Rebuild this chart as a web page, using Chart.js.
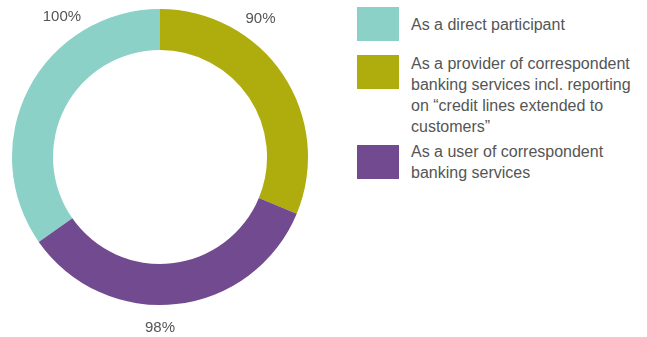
<!DOCTYPE html>
<html lang="en">
<head>
  <meta charset="UTF-8">
  <title>Participation Ring</title>
  <script src="https://cdn.jsdelivr.net/npm/chart.js"></script>
  <style>
    body {
      margin: 0;
      background: #fff;
      font-family: "Liberation Sans", Arial, sans-serif;
      color: #555;
    }

    #wrap {
      position: relative;
      width: 647px;
      height: 337px;
    }

    #chartBox {
      position: absolute;
      left: 0;
      top: 0;
      width: 320px;
      height: 337px;
    }

    #legend {
      position: absolute;
      left: 357px;
      top: 7px;
    }

    #legend ul {
      list-style: none;
      margin: 0;
      padding: 0;
    }

    #legend li {
      display: flex;
      align-items: flex-start;
      min-height: 40px;
      margin-bottom: 8px;
    }

    #legend .box {
      width: 42px;
      height: 34px;
      flex: none;
      margin-right: 12px;
    }

    #legend .txt {
      font-size: 16px;
      line-height: 21px;
      color: #555;
      white-space: nowrap;
    }
  </style>
</head>
<body>
<div id="wrap">
  <div id="chartBox"><canvas id="ringChart"></canvas></div>
  <div id="legend"></div>
</div>

<script>
    const categories = [
        ['As a direct participant'],
        ['As a provider of correspondent', 'banking services incl. reporting', 'on \u201ccredit lines extended to', 'customers\u201d'],
        ['As a user of correspondent', 'banking services']
    ];
    const shares = [100, 90, 98];
    const colors = ['#8bd1c8', '#afac0d', '#714a90'];

    const total = shares.reduce((s, v) => s + v, 0);

    // percentage text sits just outside the ring
    const outerLabels = {
        id: 'outerLabels',
        afterDatasetsDraw(chart, args, opts) {
            const ctx = chart.ctx;
            const arcs = chart.getDatasetMeta(0).data;
            ctx.save();
            ctx.font = '15px "Liberation Sans", Arial, sans-serif';
            ctx.fillStyle = '#555';
            ctx.textAlign = 'center';
            ctx.textBaseline = 'middle';
            arcs.forEach((arc, i) => {
                const a = opts.angles[i] * Math.PI / 180;
                const d = arc.outerRadius + opts.offset;
                const x = arc.x + Math.sin(a) * d;
                const y = arc.y - Math.cos(a) * d;
                ctx.fillText(chart.data.datasets[0].data[i] + '%', x, y);
            });
            ctx.restore();
        }
    };

    // legend built as html so long labels can wrap
    const htmlLegend = {
        id: 'htmlLegend',
        afterUpdate(chart) {
            const holder = document.getElementById('legend');
            const items = chart.options.plugins.legend.labels.generateLabels(chart);
            let html = '<ul>';
            items.forEach((item, i) => {
                const lines = chart.data.labels[i];
                // short labels are centred on the swatch, long ones hang from its top
                const shift = lines.length <= 2 ? (34 - lines.length * 21) / 2 : -2;
                html += '<li><span class="box" style="background:' + item.fillStyle + '"></span>' +
                    '<span class="txt" style="margin-top:' + shift + 'px">' + lines.join('<br>') + '</span></li>';
            });
            html += '</ul>';
            holder.innerHTML = html;
        }
    };

    const ctx = document.getElementById('ringChart').getContext('2d');
    new Chart(ctx, {
        type: 'doughnut',
        data: {
            labels: categories,
            datasets: [{
                data: shares,
                backgroundColor: colors,
                borderWidth: 0,
                hoverOffset: 0
            }]
        },
        options: {
            responsive: true,
            maintainAspectRatio: false,
            animation: false,
            cutout: '72.3%',
            rotation: -shares[0] / total * 360,
            layout: {
                padding: { top: 9, bottom: 32, left: 12, right: 12 }
            },
            plugins: {
                legend: { display: false },
                tooltip: { enabled: false },
                outerLabels: { angles: [-35, 36, 180], offset: 23 }
            }
        },
        plugins: [outerLabels, htmlLegend]
    });
</script>
</body>
</html>
